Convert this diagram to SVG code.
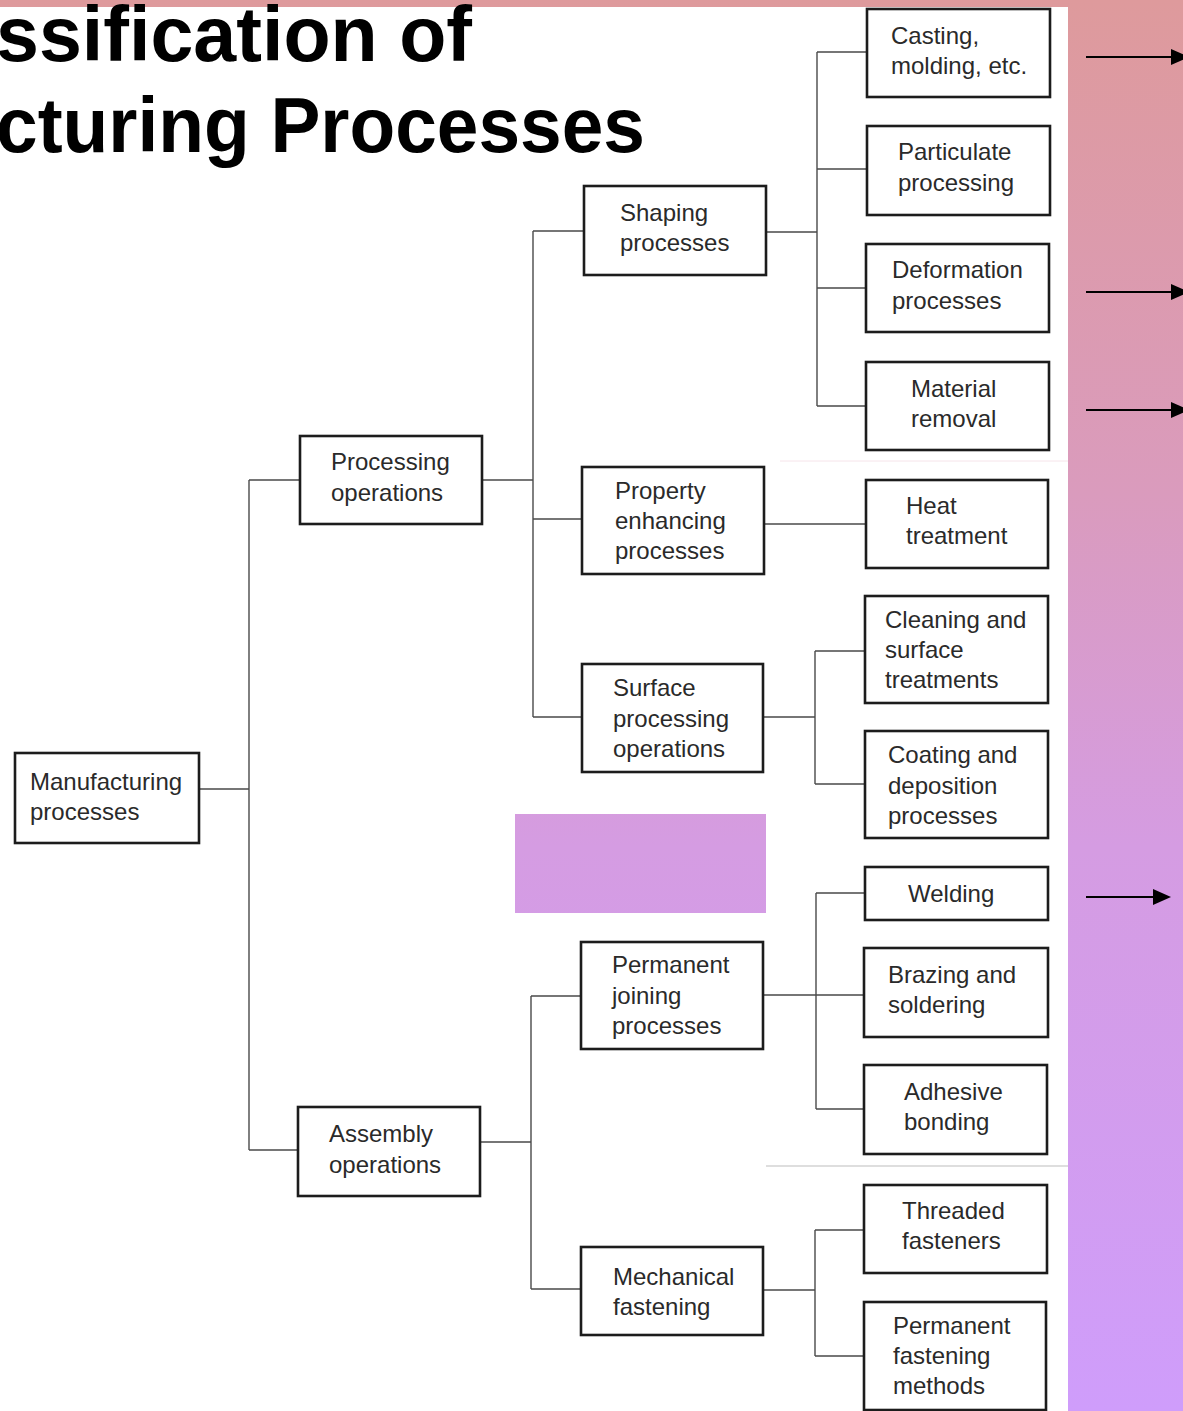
<svg xmlns="http://www.w3.org/2000/svg" width="1183" height="1411" viewBox="0 0 1183 1411">
<defs>
<linearGradient id="bg" gradientUnits="userSpaceOnUse" x1="0" y1="0" x2="0" y2="1411">
<stop offset="0" stop-color="#de9a9c"/>
<stop offset="0.35" stop-color="#da9bbd"/>
<stop offset="0.6" stop-color="#d59ce2"/>
<stop offset="1" stop-color="#cf9dfb"/>
</linearGradient>
<marker id="ah" markerWidth="9" markerHeight="8" refX="0" refY="4" orient="auto" markerUnits="strokeWidth">
<path d="M0,0 L9,4 L0,8 Z" fill="#000"/>
</marker>
<style>
.box{fill:#fff;stroke:#1c1c1c;stroke-width:2.6}
.lbl{font-family:"Liberation Sans",Arial,Helvetica,sans-serif;font-size:24px;fill:#2a2a2a}
.con{fill:none;stroke:#4a4a4a;stroke-width:1.4}
.title{font-family:"Liberation Sans",Arial,Helvetica,sans-serif;font-weight:bold;font-size:78px;fill:#000}
.arr{stroke:#000;stroke-width:2;fill:none}
</style>
</defs>
<rect x="0" y="0" width="1183" height="1411" fill="url(#bg)"/>
<rect x="0" y="7" width="1068" height="1404" fill="#fff"/>
<rect x="515" y="814" width="251" height="99" fill="url(#bg)"/>
<line x1="780" y1="461" x2="1068" y2="461" stroke="#f6e4ea" stroke-width="1"/>
<line x1="766" y1="1166" x2="1068" y2="1166" stroke="#bdbdbd" stroke-width="1"/>

<g id="title">
<text class="title" x="-4" y="61" textLength="476" lengthAdjust="spacingAndGlyphs">ssification of</text>
<text class="title" x="-4" y="152" textLength="649" lengthAdjust="spacingAndGlyphs">cturing Processes</text>
</g>

<g id="connectors">
<path class="con" d="M199,789 H249 M249,480 V1150 M249,480 H300 M249,1150 H298"/>
<path class="con" d="M482,480 H533 M533,231 V717 M533,231 H584 M533,519 H582 M533,717 H582"/>
<path class="con" d="M766,232 H817 M817,52 V406 M817,52 H867 M817,169 H867 M817,288 H866 M817,406 H866"/>
<path class="con" d="M764,524 H866"/>
<path class="con" d="M763,717 H815 M815,651 V784 M815,651 H865 M815,784 H865"/>
<path class="con" d="M480,1142 H531 M531,996 V1289 M531,996 H581 M531,1289 H581"/>
<path class="con" d="M763,995 H816 M816,893 V1109 M816,893 H865 M816,995 H864 M816,1109 H864"/>
<path class="con" d="M763,1290 H815 M815,1230 V1356 M815,1230 H864 M815,1356 H864"/>
</g>

<g id="arrows">
<line class="arr" x1="1086" y1="57" x2="1171" y2="57" marker-end="url(#ah)"/>
<line class="arr" x1="1086" y1="292" x2="1171" y2="292" marker-end="url(#ah)"/>
<line class="arr" x1="1086" y1="410" x2="1171" y2="410" marker-end="url(#ah)"/>
<line class="arr" x1="1086" y1="897" x2="1153" y2="897" marker-end="url(#ah)"/>
</g>

<g id="n-manufacturing"><rect class="box" x="15" y="753" width="184" height="90"/><text class="lbl" x="30" y="790">Manufacturing</text><text class="lbl" x="30" y="820">processes</text></g>
<g id="n-processing"><rect class="box" x="300" y="436" width="182" height="88"/><text class="lbl" x="331" y="470">Processing</text><text class="lbl" x="331" y="501">operations</text></g>
<g id="n-assembly"><rect class="box" x="298" y="1107" width="182" height="89"/><text class="lbl" x="329" y="1142">Assembly</text><text class="lbl" x="329" y="1173">operations</text></g>
<g id="n-shaping"><rect class="box" x="584" y="186" width="182" height="89"/><text class="lbl" x="620" y="221">Shaping</text><text class="lbl" x="620" y="251">processes</text></g>
<g id="n-property"><rect class="box" x="582" y="467" width="182" height="107"/><text class="lbl" x="615" y="499">Property</text><text class="lbl" x="615" y="529">enhancing</text><text class="lbl" x="615" y="559">processes</text></g>
<g id="n-surface"><rect class="box" x="582" y="664" width="181" height="108"/><text class="lbl" x="613" y="696">Surface</text><text class="lbl" x="613" y="727">processing</text><text class="lbl" x="613" y="757">operations</text></g>
<g id="n-permjoin"><rect class="box" x="581" y="942" width="182" height="107"/><text class="lbl" x="612" y="973">Permanent</text><text class="lbl" x="612" y="1004">joining</text><text class="lbl" x="612" y="1034">processes</text></g>
<g id="n-mechanical"><rect class="box" x="581" y="1247" width="182" height="88"/><text class="lbl" x="613" y="1285">Mechanical</text><text class="lbl" x="613" y="1315">fastening</text></g>
<g id="n-casting"><rect class="box" x="867" y="9" width="183" height="88"/><text class="lbl" x="891" y="44">Casting,</text><text class="lbl" x="891" y="74">molding, etc.</text></g>
<g id="n-particulate"><rect class="box" x="867" y="126" width="183" height="89"/><text class="lbl" x="898" y="160">Particulate</text><text class="lbl" x="898" y="191">processing</text></g>
<g id="n-deformation"><rect class="box" x="866" y="244" width="183" height="88"/><text class="lbl" x="892" y="278">Deformation</text><text class="lbl" x="892" y="309">processes</text></g>
<g id="n-material"><rect class="box" x="866" y="362" width="183" height="88"/><text class="lbl" x="911" y="397">Material</text><text class="lbl" x="911" y="427">removal</text></g>
<g id="n-heat"><rect class="box" x="866" y="480" width="182" height="88"/><text class="lbl" x="906" y="514">Heat</text><text class="lbl" x="906" y="544">treatment</text></g>
<g id="n-cleaning"><rect class="box" x="865" y="596" width="183" height="107"/><text class="lbl" x="885" y="628">Cleaning and</text><text class="lbl" x="885" y="658">surface</text><text class="lbl" x="885" y="688">treatments</text></g>
<g id="n-coating"><rect class="box" x="865" y="731" width="183" height="107"/><text class="lbl" x="888" y="763">Coating and</text><text class="lbl" x="888" y="794">deposition</text><text class="lbl" x="888" y="824">processes</text></g>
<g id="n-welding"><rect class="box" x="865" y="867" width="183" height="53"/><text class="lbl" x="908" y="902">Welding</text></g>
<g id="n-brazing"><rect class="box" x="864" y="948" width="184" height="89"/><text class="lbl" x="888" y="983">Brazing and</text><text class="lbl" x="888" y="1013">soldering</text></g>
<g id="n-adhesive"><rect class="box" x="864" y="1065" width="183" height="89"/><text class="lbl" x="904" y="1100">Adhesive</text><text class="lbl" x="904" y="1130">bonding</text></g>
<g id="n-threaded"><rect class="box" x="864" y="1185" width="183" height="88"/><text class="lbl" x="902" y="1219">Threaded</text><text class="lbl" x="902" y="1249">fasteners</text></g>
<g id="n-permfast"><rect class="box" x="864" y="1302" width="182" height="108"/><text class="lbl" x="893" y="1334">Permanent</text><text class="lbl" x="893" y="1364">fastening</text><text class="lbl" x="893" y="1394">methods</text></g>
</svg>
